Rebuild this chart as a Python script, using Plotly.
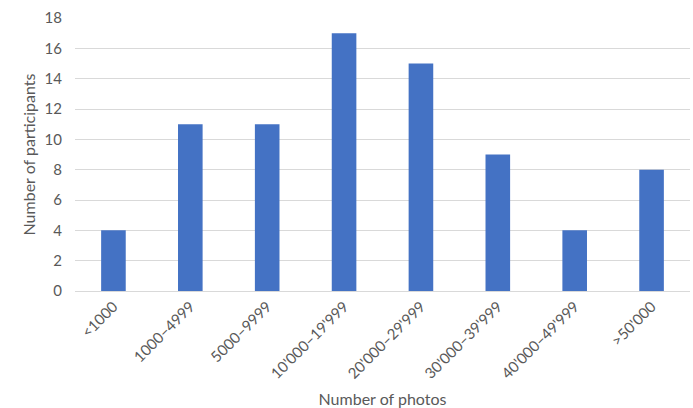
import plotly.graph_objects as go

categories = ["<1000", "1000–4999", "5000–9999", "10'000–19'999", "20'000–29'999",
              "30'000–39'999", "40'000–49'999", ">50'000"]
participants = [4, 11, 11, 17, 15, 9, 4, 8]
y_ticks = [0, 2, 4, 6, 8, 10, 12, 14, 16, 18]

font_family = "Lato, 'Open Sans', sans-serif"
text_color = "#595959"

fig = go.Figure(
    go.Bar(
        x=categories,
        y=participants,
        marker=dict(color="#4472C4", line=dict(width=0)),
    )
)

fig.update_layout(
    width=693,
    height=408,
    margin=dict(l=75, r=3, t=18, b=117),
    paper_bgcolor="white",
    plot_bgcolor="white",
    bargap=0.68,
    showlegend=False,
    font=dict(family=font_family, color=text_color, size=15),
    xaxis=dict(
        title=dict(text="Number of photos", font=dict(size=16, color=text_color), standoff=12),
        tickangle=-45,
        tickfont=dict(size=15, color=text_color),
        showgrid=False,
        showline=True,
        linecolor="#d9d9d9",
        linewidth=1,
        ticks="",
    ),
    yaxis=dict(
        title=dict(text="Number of participants", font=dict(size=16, color=text_color), standoff=4),
        range=[0, 18],
        tickvals=y_ticks,
        tickfont=dict(size=15, color=text_color),
        showgrid=True,
        gridcolor="#d9d9d9",
        gridwidth=1,
        zeroline=False,
        showline=False,
        ticks="",
        ticklabelstandoff=12,
    ),
)

fig.write_html("out.html")
